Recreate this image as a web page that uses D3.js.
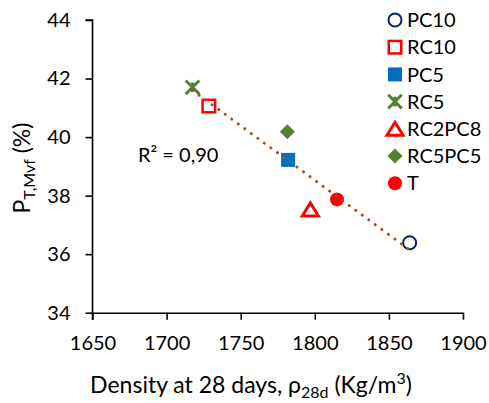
<!DOCTYPE html>
<html><head><meta charset="utf-8">
<script src="https://cdn.jsdelivr.net/npm/d3@7"></script>
<style>
html,body{margin:0;padding:0;background:#fff;}
svg text{font-family:Lato,"Open Sans",sans-serif;fill:#000;}
</style></head>
<body><svg id="c" width="489" height="403"></svg>
<script>
const series = ["PC10","RC10","PC5","RC5","RC2PC8","RC5PC5","T"];
const density = [1864, 1728.5, 1782, 1717.5, 1797, 1781.5, 1815];
const porosity = [36.39, 41.06, 39.22, 41.70, 37.53, 40.18, 37.87];
const xTicks = [1650,1700,1750,1800,1850,1900];
const yTicks = [34,36,38,40,42,44];
const r2Label = "R² = 0,90";

const svg = d3.select("#c");
const x = d3.scaleLinear().domain([1650,1900]).range([92.5,463]);
const y = d3.scaleLinear().domain([34,44]).range([312.7,20]);

const styles = {
  PC10:{type:"circle",fill:"none",stroke:"#002060",size:6.5,sw:2},
  RC10:{type:"square",fill:"none",stroke:"#FF0000",size:12.5,sw:2.5},
  PC5:{type:"square",fill:"#0070C0",stroke:"none",size:14,sw:0},
  RC5:{type:"star",fill:"none",stroke:"#548235",size:16,sw:3},
  RC2PC8:{type:"triangle",fill:"none",stroke:"#FF0000",size:13,sw:3},
  RC5PC5:{type:"diamond",fill:"#548235",stroke:"none",size:15,sw:0},
  T:{type:"circle",fill:"#FF0000",stroke:"none",size:7,sw:0}
};

function drawMarker(g, s){
  const h = s.size/2;
  if(s.type==="circle") g.append("circle").attr("r",s.size);
  else if(s.type==="square") g.append("rect").attr("x",-h).attr("y",-h).attr("width",s.size).attr("height",s.size);
  else if(s.type==="diamond") g.append("path").attr("d",`M0,${-h}L${h},0L0,${h}L${-h},0Z`);
  else if(s.type==="triangle"){ const w=s.size*0.62, t=s.size*0.5; g.append("path").attr("d",`M0,${-t}L${w},${t}L${-w},${t}Z`).attr("stroke-linejoin","miter"); }
  else if(s.type==="star"){ const a=h*0.85; g.append("path").attr("d",`M${-a},${-a}L${a},${a}M${-a},${a}L${a},${-a}M0,${-h*0.6}L0,${h*0.6}`); }
  g.selectAll("*").attr("fill",s.fill).attr("stroke",s.stroke).attr("stroke-width",s.sw);
}

// axes
const gx = svg.append("g").attr("transform",`translate(0,${y(34)})`)
  .call(d3.axisBottom(x).tickValues(xTicks).tickSize(7).tickSizeOuter(0).tickPadding(16).tickFormat(d3.format("d")));
const gy = svg.append("g").attr("transform",`translate(${x(1650)},0)`)
  .call(d3.axisLeft(y).tickValues(yTicks).tickSize(7).tickSizeOuter(0).tickPadding(15).tickFormat(d3.format("d")));
[gx,gy].forEach(g=>{
  g.selectAll("path,line").attr("stroke","#000").attr("stroke-width",1.6);
  g.selectAll("text").attr("font-family","Lato").attr("font-size",20).attr("fill","#000");
});
gy.select(".domain").attr("d",`M0,${y(34)+7}V${y(44)}H-7`);

// trendline (least squares through the points)
const n = density.length;
const mx = d3.mean(density), my = d3.mean(porosity);
let sxy=0,sxx=0; for(let i=0;i<n;i++){sxy+=(density[i]-mx)*(porosity[i]-my);sxx+=(density[i]-mx)**2;}
const slope=sxy/sxx, icpt=my-slope*mx;
const x0=d3.min(density), x1=d3.max(density);

// points
series.forEach((k,i)=>{
  const g=svg.append("g").attr("transform",`translate(${x(density[i])},${y(porosity[i])})`);
  drawMarker(g, styles[k]);
});
svg.append("line").attr("x1",x(x0)).attr("y1",y(icpt+slope*x0)).attr("x2",x(x1)).attr("y2",y(icpt+slope*x1))
  .attr("stroke","#A5501A").attr("stroke-width",3).attr("stroke-linecap","round").attr("stroke-dasharray","0.1 8");

// R2 label
svg.append("text").attr("x",138).attr("y",162).attr("font-size",20).text(r2Label);

// legend
series.forEach((k,i)=>{
  const cy = 20 + i*27.2;
  const g=svg.append("g").attr("transform",`translate(395,${cy})`);
  drawMarker(g, styles[k]);
  svg.append("text").attr("x",407).attr("y",cy).attr("dy","0.36em").attr("font-size",20).text(k);
});

// x title
const xt = svg.append("text").attr("x",251).attr("y",393).attr("text-anchor","middle").attr("font-size",23);
xt.append("tspan").text("Density at 28 days, ρ");
xt.append("tspan").attr("font-size",16).attr("dy",5).text("28d");
xt.append("tspan").attr("dy",-5).text(" (Kg/m");
xt.append("tspan").attr("font-size",16).attr("dy",-9).text("3");
xt.append("tspan").attr("dy",9).text(")");

// y title
const yt = svg.append("text").attr("transform","translate(30,168) rotate(-90)").attr("text-anchor","middle").attr("font-size",23);
yt.append("tspan").text("P");
yt.append("tspan").attr("font-size",16).attr("dy",5).text("T,Mvf");
yt.append("tspan").attr("dy",-5).text(" (%)");
</script></body></html>
